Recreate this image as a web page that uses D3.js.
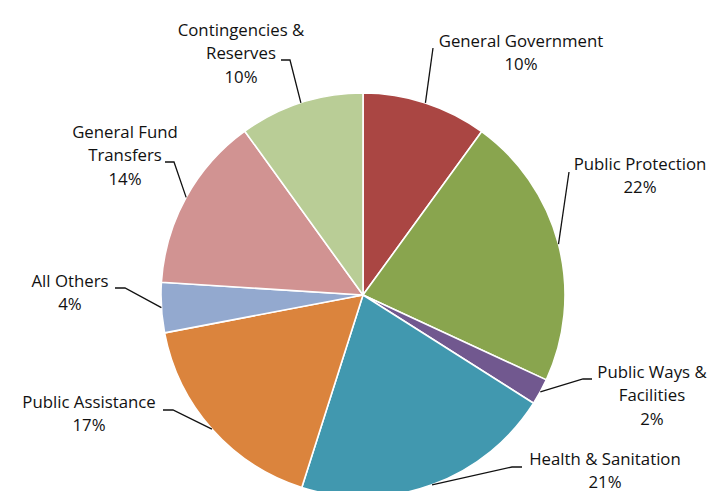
<!DOCTYPE html>
<html>
<head>
<meta charset="utf-8">
<script src="https://cdn.jsdelivr.net/npm/d3@7"></script>
<style>
  html, body { margin: 0; padding: 0; background: #fff; }
  svg { display: block; }
  text { font-family: "Open Sans", sans-serif; font-size: 16.8px; fill: #111; }
</style>
</head>
<body>
<svg id="chart" width="711" height="491"></svg>
<script>
// ---- data ----
const categories = [
  "General Government", "Public Protection", "Public Ways & Facilities",
  "Health & Sanitation", "Public Assistance", "All Others",
  "General Fund Transfers", "Contingencies & Reserves"
];
const labelLines = [
  ["General Government"], ["Public Protection"], ["Public Ways &", "Facilities"],
  ["Health & Sanitation"], ["Public Assistance"], ["All Others"],
  ["General Fund", "Transfers"], ["Contingencies &", "Reserves"]
];
const values = [10.0, 21.9, 2.1, 20.9, 17.1, 4.0, 14.05, 9.95];
const colors = ["#AA4643", "#89A54E", "#71588F", "#4198AF", "#DB843D", "#93A9CF", "#D19392", "#B9CD96"];

// ---- layout (label placement, leader line elbows) ----
const cx = 363, cy = 295, R = 202;
const labelLayout = [
  { x: 521, y: 47, elbow: [433, 48], end: null },
  { x: 640, y: 170, elbow: [569, 172], end: null },
  { x: 652, y: 378, elbow: [583, 379], end: [592, 379] },
  { x: 605, y: 465, elbow: [512, 467], end: [522, 467] },
  { x: 89, y: 408, elbow: [173, 410], end: [163, 410] },
  { x: 70, y: 287, elbow: [125, 288], end: [115, 288] },
  { x: 125, y: 138, elbow: [174, 162], end: [165, 162] },
  { x: 241, y: 36, elbow: [290, 60], end: [281, 60] }
];
const lineH = 23.3;

const svg = d3.select("#chart");
const g = svg.append("g").attr("transform", `translate(${cx},${cy})`);

const pie = d3.pie().sort(null).value(d => d)(values);
const arc = d3.arc().innerRadius(0).outerRadius(R);
const total = d3.sum(values);
const pct = d3.format(".0%");

g.selectAll("path.slice")
  .data(pie)
  .join("path")
  .attr("class", "slice")
  .attr("d", arc)
  .attr("fill", (d, i) => colors[i])
  .attr("stroke", "#fff")
  .attr("stroke-width", 1.6)
  .attr("stroke-linejoin", "round");

// leader lines
svg.append("g").selectAll("polyline")
  .data(pie)
  .join("polyline")
  .attr("fill", "none")
  .attr("stroke", "#111")
  .attr("stroke-width", 1.3)
  .attr("points", (d, i) => {
    const a = (d.startAngle + d.endAngle) / 2;
    const p = [cx + R * Math.sin(a), cy - R * Math.cos(a)];
    const L = labelLayout[i];
    const pts = [p, L.elbow];
    if (L.end) pts.push(L.end);
    return pts.map(q => q.join(",")).join(" ");
  });

// labels
const labels = svg.append("g").selectAll("text")
  .data(pie)
  .join("text")
  .attr("text-anchor", "middle")
  .attr("x", (d, i) => labelLayout[i].x)
  .attr("y", (d, i) => labelLayout[i].y);

labels.each(function (d, i) {
  const t = d3.select(this);
  const lines = labelLines[i].concat([pct(d.data / total)]);
  lines.forEach((s, k) => {
    t.append("tspan")
      .attr("x", labelLayout[i].x)
      .attr("y", labelLayout[i].y + k * lineH)
      .text(s);
  });
});
</script>
</body>
</html>
